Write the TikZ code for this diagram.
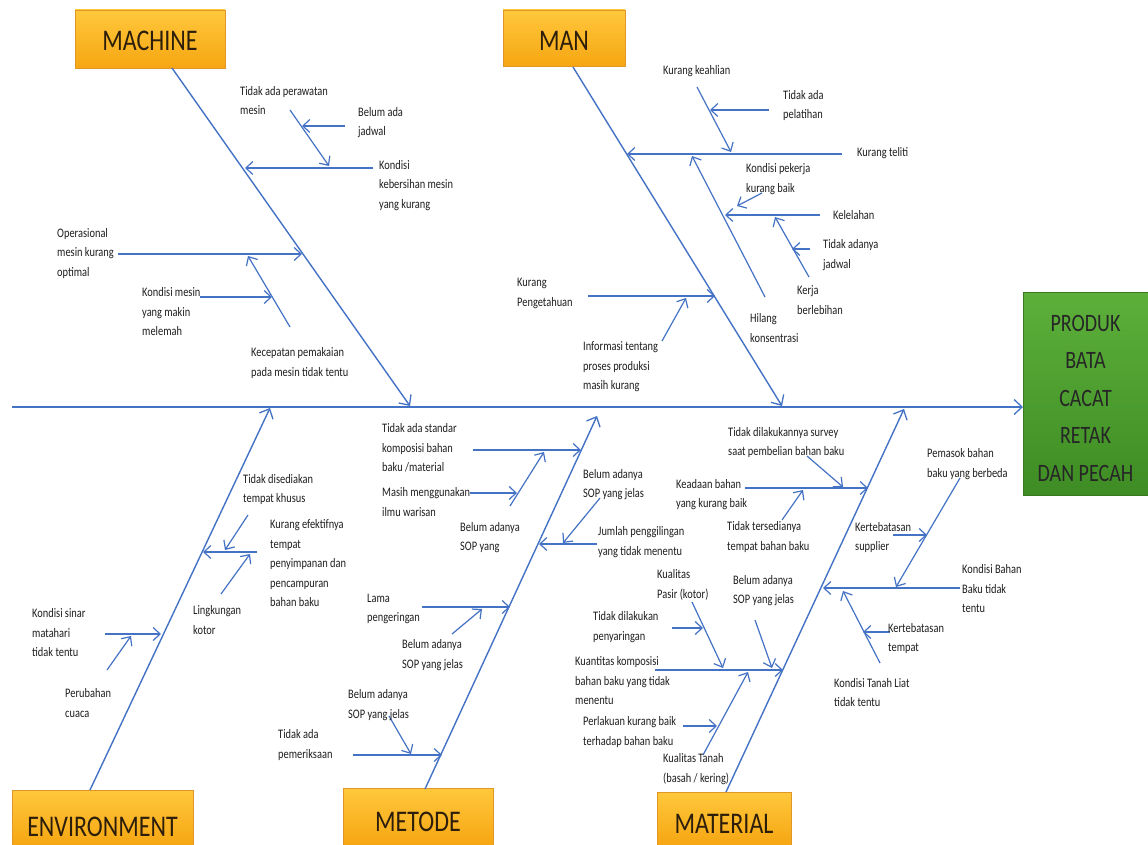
\documentclass[tikz,border=0pt]{standalone}
\usepackage{fontspec}
\setmainfont{Carlito}[FakeStretch=0.8]
\usetikzlibrary{arrows.meta}
\definecolor{bone}{HTML}{4472C4}
\definecolor{orgtop}{RGB}{255,200,60}
\definecolor{orgbot}{RGB}{246,166,18}
\definecolor{orgline}{RGB}{225,150,40}
\definecolor{grntop}{RGB}{92,176,58}
\definecolor{grnbot}{RGB}{62,140,36}
\definecolor{grnline}{RGB}{58,120,32}
\definecolor{txt}{RGB}{30,30,30}
\definecolor{cattxt}{RGB}{45,30,12}
\tikzset{
  lbl/.style={anchor=west, align=left, inner sep=0pt, text=txt,
    font=\fontsize{13}{19.5}\selectfont},
  catbox/.style={draw=orgline, line width=0.6pt, top color=orgtop, bottom color=orgbot,
    inner sep=0pt},
  cattext/.style={inner sep=0pt, text=cattxt, font=\fontsize{30}{36}\selectfont},
  effbox/.style={draw=grnline, line width=0.6pt, top color=grntop, bottom color=grnbot,
    minimum width=125pt, minimum height=203pt, inner sep=0pt},
  efftext/.style={inner sep=0pt, align=center, text=black!85, font=\fontsize{25}{37.5}\selectfont},
  mainbone/.style={draw=bone, line width=1.4pt, -{Straight Barb[length=8pt,width=15pt,line width=1.3pt]}},
  subbone/.style={draw=bone, line width=1.2pt, -{Straight Barb[length=7pt,width=13pt,line width=1.2pt]}}
}
\newcommand\fbone[3]{%
  \coordinate (#1-s) at (#2);
  \coordinate (#1-e) at (#3);
  \draw[subbone] (#1-s) -- (#1-e);}
\begin{document}
\begin{tikzpicture}[x=1pt,y=-1pt]
\useasboundingbox[fill=white] (0,0) rectangle (1148,845);

% category boxes
\node[catbox, minimum width=150pt, minimum height=58pt] (mchbox) at (150,39) {};
\node[cattext] (mchtxt) at (150,41) {MACHINE};
\node[catbox, minimum width=122pt, minimum height=56pt] (manbox) at (564,38) {};
\node[cattext] (mantxt) at (564,41) {MAN};
\node[catbox, minimum width=181pt, minimum height=55pt] (envbox) at (102.5,817.5) {};
\node[cattext] (envtxt) at (102.5,827) {ENVIRONMENT};
\node[catbox, minimum width=150pt, minimum height=57pt] (metbox) at (418,816.5) {};
\node[cattext] (mettxt) at (418,822) {METODE};
\node[catbox, minimum width=134pt, minimum height=53pt] (matbox) at (724,818.5) {};
\node[cattext] (mattxt) at (724,824) {MATERIAL};

% effect box
\node[effbox] (eff) at (1085.5,393.5) {};
\node[efftext] (efftxt) at (1085.5,398) {PRODUK\\BATA\\CACAT\\RETAK\\DAN PECAH};

% spine and main bones
\coordinate (spL) at (12,407);
\coordinate (spR) at (1023,407);
\draw[mainbone] (spL) -- (spR);
\coordinate (mchS) at (172,68);  \coordinate (mchE) at (410,406);
\draw[mainbone] (mchS) -- (mchE);
\coordinate (manS) at (573,67);  \coordinate (manE) at (782,406);
\draw[mainbone] (manS) -- (manE);
\coordinate (envS) at (90,790);  \coordinate (envE) at (270,408);
\draw[mainbone] (envS) -- (envE);
\coordinate (metS) at (425,789); \coordinate (metE) at (597,416);
\draw[mainbone] (metS) -- (metE);
\coordinate (matS) at (726,792); \coordinate (matE) at (904,409);
\draw[mainbone] (matS) -- (matE);

% MACHINE branches
\fbone{m1}{373,168}{245,168}
\fbone{m2}{290,110}{329,166}
\fbone{m3}{345,126}{302,126}
\fbone{m4}{118,254}{302,254}
\fbone{m5}{290,327}{248,256}
\fbone{m6}{200,297}{272,297}
\node[lbl] (lm1) at (240,100.5) {Tidak ada perawatan\\mesin};
\node[lbl] (lm2) at (358,122.5) {Belum ada\\jadwal};
\node[lbl] (lm3) at (379,185.5) {Kondisi\\kebersihan mesin\\yang kurang};
\node[lbl] (lm4) at (57,253.5) {Operasional\\mesin kurang\\optimal};
\node[lbl] (lm5) at (142,312) {Kondisi mesin\\yang makin\\melemah};
\node[lbl] (lm6) at (251,363) {Kecepatan pemakaian\\pada mesin tidak tentu};

% MAN branches
\fbone{n1}{842,154}{627,154}
\fbone{n2}{697,87}{731,152}
\fbone{n3}{769,110}{710,110}
\fbone{n4}{765,297}{692,156}
\fbone{n5}{820,215}{725,215}
\fbone{n6}{762,193}{737,206}
\fbone{n7}{809,277}{775,217}
\fbone{n8}{810,249}{792,249}
\fbone{n9}{588,296}{715,296}
\fbone{n10}{662,341}{686,298}
\node[lbl] (ln1) at (663,71) {Kurang keahlian};
\node[lbl] (ln2) at (783,105.5) {Tidak ada\\pelatihan};
\node[lbl] (ln3) at (857,153) {Kurang teliti};
\node[lbl] (ln4) at (746,179) {Kondisi pekerja\\kurang baik};
\node[lbl] (ln5) at (833,215) {Kelelahan};
\node[lbl] (ln6) at (823,255) {Tidak adanya\\jadwal};
\node[lbl] (ln7) at (797,300) {Kerja\\berlebihan};
\node[lbl] (ln8) at (750,328) {Hilang\\konsentrasi};
\node[lbl] (ln9) at (517,293.5) {Kurang\\Pengetahuan};
\node[lbl] (ln10) at (583,367) {Informasi tentang\\proses produksi\\masih kurang};

% ENVIRONMENT branches
\fbone{e1}{105,634}{161,634}
\fbone{e2}{107,670}{131,636}
\fbone{e3}{257,552}{203,552}
\fbone{e4}{248,515}{225,550}
\fbone{e5}{221,594}{250,554}
\node[lbl] (le1) at (243,489.5) {Tidak disediakan\\tempat khusus};
\node[lbl] (le2) at (270,563.5) {Kurang efektifnya\\tempat\\penyimpanan dan\\pencampuran\\bahan baku};
\node[lbl] (le3) at (193,620) {Lingkungan\\kotor};
\node[lbl] (le4) at (32,633) {Kondisi sinar\\matahari\\tidak tentu};
\node[lbl] (le5) at (65,703) {Perubahan\\cuaca};

% METODE branches
\fbone{t1}{473,450}{581,450}
\fbone{t2}{510,506}{544,452}
\fbone{t3}{470,493}{517,493}
\fbone{t4}{600,498}{563,543}
\fbone{t5}{597,544}{539,544}
\fbone{t6}{422,607}{510,607}
\fbone{t7}{452,634}{482,609}
\fbone{t8}{353,755}{442,755}
\fbone{t9}{389,716}{411,754}
\node[lbl] (lt1) at (382,448) {Tidak ada standar\\komposisi bahan\\baku /material};
\node[lbl] (lt2) at (382,502) {Masih menggunakan\\ilmu warisan};
\node[lbl] (lt3) at (460,537.5) {Belum adanya\\SOP yang};
\node[lbl] (lt4) at (583,484.5) {Belum adanya\\SOP yang jelas};
\node[lbl] (lt5) at (598,542) {Jumlah penggilingan\\yang tidak menentu};
\node[lbl] (lt6) at (367,609) {Lama\\pengeringan};
\node[lbl] (lt7) at (402,655) {Belum adanya\\SOP yang jelas};
\node[lbl] (lt8) at (348,705) {Belum adanya\\SOP yang jelas};
\node[lbl] (lt9) at (278,745) {Tidak ada\\pemeriksaan};

% MATERIAL branches
\fbone{a1}{745,488}{868,488}
\fbone{a2}{807,456}{843,487}
\fbone{a3}{782,520}{803,490}
\fbone{a4}{960,588}{823,588}
\fbone{a5}{960,478}{896,587}
\fbone{a6}{893,535}{927,535}
\fbone{a7}{880,663}{843,591}
\fbone{a8}{890,632}{863,632}
\fbone{a9}{655,670}{783,670}
\fbone{a10}{692,602}{723,668}
\fbone{a11}{672,628}{703,628}
\fbone{a12}{755,620}{772,668}
\fbone{a13}{683,726}{717,726}
\fbone{a14}{703,755}{748,672}
\node[lbl] (la1) at (728,442.5) {Tidak dilakukannya survey\\saat pembelian bahan baku};
\node[lbl] (la2) at (676,494.5) {Keadaan bahan\\yang kurang baik};
\node[lbl] (la3) at (727,537) {Tidak tersedianya\\tempat bahan baku};
\node[lbl] (la4) at (927,464) {Pemasok bahan\\baku yang berbeda};
\node[lbl] (la5) at (855,537.5) {Kertebatasan\\supplier};
\node[lbl] (la6) at (962,589) {Kondisi Bahan\\Baku tidak\\tentu};
\node[lbl] (la7) at (888,638.5) {Kertebatasan\\tempat};
\node[lbl] (la8) at (834,692.5) {Kondisi Tanah Liat\\tidak tentu};
\node[lbl] (la9) at (657,585) {Kualitas\\Pasir (kotor)};
\node[lbl] (la10) at (733,590.5) {Belum adanya\\SOP yang jelas};
\node[lbl] (la11) at (593,627) {Tidak dilakukan\\penyaringan};
\node[lbl] (la12) at (575,681) {Kuantitas komposisi\\bahan baku yang tidak\\menentu};
\node[lbl] (la13) at (583,732) {Perlakuan kurang baik\\terhadap bahan baku};
\node[lbl] (la14) at (663,769) {Kualitas Tanah\\(basah / kering)};
\end{tikzpicture}
\end{document}
